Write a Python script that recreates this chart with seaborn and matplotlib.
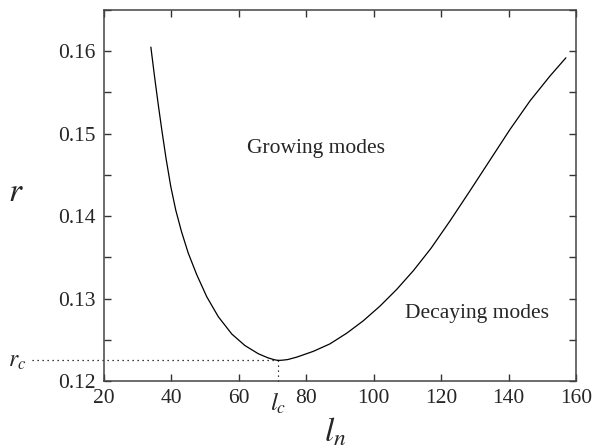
import numpy as np
import pandas as pd
import matplotlib
matplotlib.use("Agg")
import matplotlib.pyplot as plt
import seaborn as sns
from matplotlib.ticker import MultipleLocator

# Data
l_n = [33.9, 35.0, 36.1, 37.2, 38.4, 39.8, 41.3, 43.0, 45.0, 47.5, 50.5, 53.9,
       57.9, 61.8, 65.8, 68.7, 70.5, 71.6, 72.8, 74.5, 77.2, 82.1, 87.0, 92.0,
       96.9, 101.9, 106.8, 111.8, 117.0, 122.6, 128.6, 134.5, 140.4, 146.4,
       152.3, 157.0]
r = [0.1605, 0.1569, 0.1535, 0.1503, 0.1470, 0.1436, 0.1407, 0.1381, 0.1355,
     0.1329, 0.1302, 0.1278, 0.1257, 0.1243, 0.1233, 0.1228, 0.12258, 0.1225,
     0.12252, 0.1226, 0.1229, 0.1236, 0.1245, 0.1258, 0.1273, 0.1291, 0.1311,
     0.1334, 0.1361, 0.1394, 0.1431, 0.1468, 0.1505, 0.1540, 0.1570, 0.1592]
l_c = 71.6
r_c = 0.1225
x_ticks = [20, 40, 60, 80, 100, 120, 140, 160]
y_ticks = [0.12, 0.13, 0.14, 0.15, 0.16]

sns.set_style("ticks")
plt.rcParams['font.family'] = ['Liberation Serif', 'DejaVu Serif']
plt.rcParams['mathtext.fontset'] = 'stix'

fig = plt.figure(figsize=(5.92, 4.48), dpi=100)
ax = fig.add_axes([104/592, 1-381/448, (576-104)/592, (381-10)/448])

df = pd.DataFrame({"l_n": l_n, "r": r})
sns.lineplot(data=df, x="l_n", y="r", sort=False, color="black", lw=0.9, ax=ax)

ax.set_xlim(20, 160)
ax.set_ylim(0.12, 0.165)
ax.set_xticks(x_ticks)
ax.set_xticklabels([str(t) for t in x_ticks])
ax.set_yticks(y_ticks)
ax.set_yticklabels([f"{t:.2f}" for t in y_ticks])
ax.yaxis.set_minor_locator(MultipleLocator(0.005))
ax.tick_params(axis='both', which='both', direction='in', top=True, right=True,
               labelsize=15.5, color='#333333', width=1.0)
ax.tick_params(axis='both', which='major', length=5, pad=6)
ax.tick_params(axis='y', which='minor', length=5)
ax.tick_params(axis='x', which='minor', bottom=False, top=False)
for s in ax.spines.values():
    s.set_color('#444444')
    s.set_linewidth(1.1)

ax.set_xlabel("")
ax.set_ylabel("")
fig.text(335/592, 1-432/448, r"$l_n$", fontsize=24, ha='center', va='center')
fig.text(16/592, 1-193/448, r"$r$", fontsize=24, ha='center', va='center')

# critical point guides
ax.plot([-1.4, l_c], [r_c, r_c], ls=(0, (1, 3)), color='black', lw=0.9, clip_on=False)
ax.plot([l_c, l_c], [r_c, 0.1195], ls=(0, (1, 3)), color='black', lw=0.9, clip_on=False)
fig.text(17/592, 1-361/448, r"$r_c$", fontsize=17, ha='center', va='center')
fig.text(278/592, 1-403/448, r"$l_c$", fontsize=18, ha='center', va='center')

ax.text(82.9, 0.1482, "Growing modes", fontsize=15.5, ha='center', va='center')
ax.text(130.7, 0.1282, "Decaying modes", fontsize=15.5, ha='center', va='center')

fig.savefig("out.png", dpi=100)
